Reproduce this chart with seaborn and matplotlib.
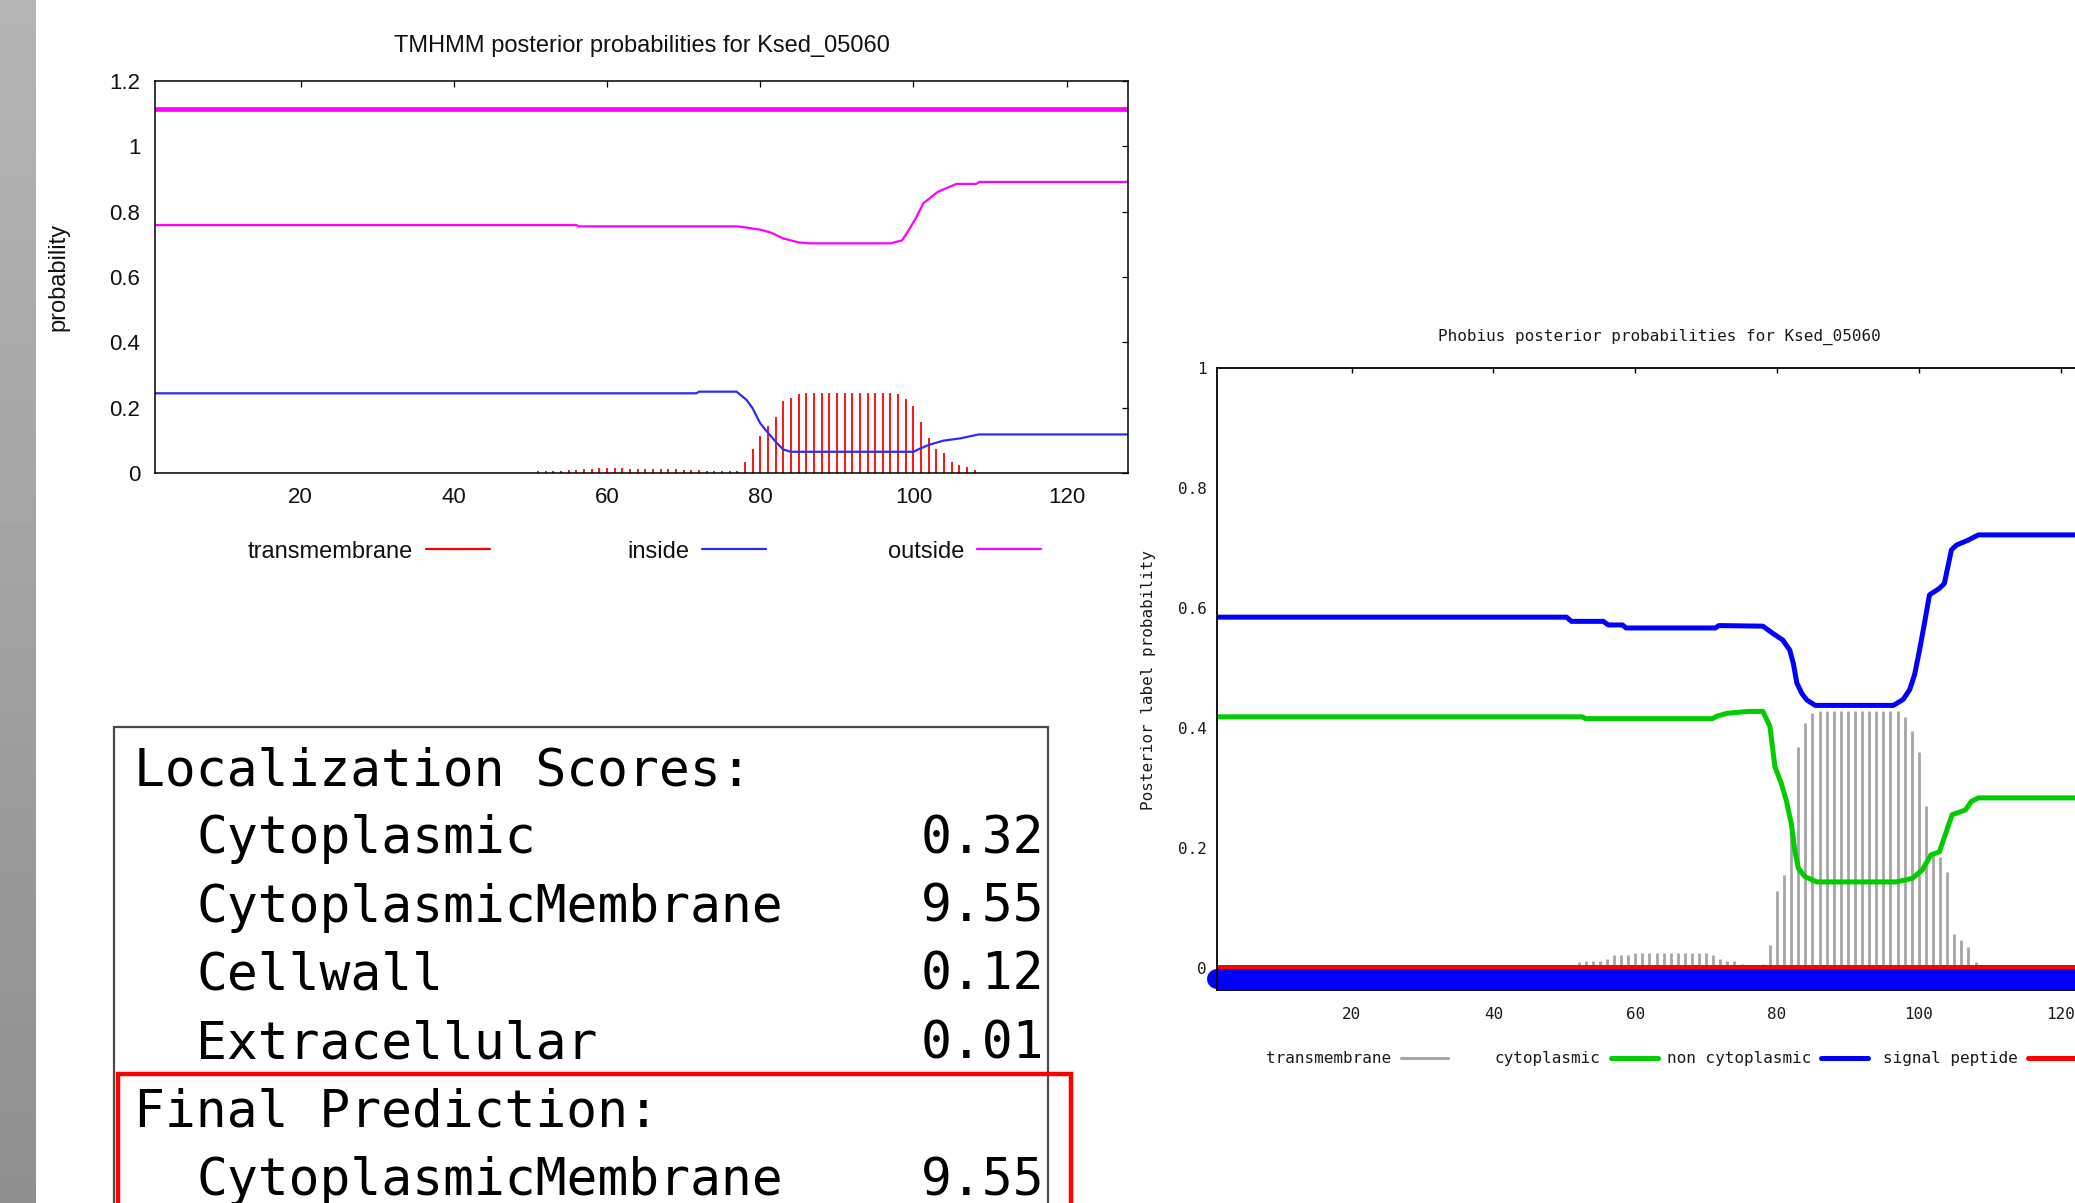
import numpy as np
import pandas as pd
import matplotlib
matplotlib.use("Agg")
import matplotlib.pyplot as plt
import seaborn as sns
from matplotlib.lines import Line2D
from matplotlib.patches import Rectangle
from matplotlib.ticker import FuncFormatter

# ---------------- TMHMM data ----------------
tmhmm_title = "TMHMM posterior probabilities for Ksed_05060"
tmhmm_tm_res = [51, 52, 53, 54, 55, 56, 57, 58, 59, 60, 61, 62, 63, 64, 65, 66, 67, 68, 69, 70,
                71, 72, 73, 74, 75, 76, 77, 78, 79, 80, 81, 82, 83, 84, 85, 86, 87, 88, 89, 90,
                91, 92, 93, 94, 95, 96, 97, 98, 99, 100, 101, 102, 103, 104, 105, 106, 107, 108]
tmhmm_tm_prob = [0.006, 0.006, 0.007, 0.007, 0.008, 0.009, 0.012, 0.013, 0.014, 0.015,
                 0.014, 0.014, 0.013, 0.013, 0.013, 0.013, 0.013, 0.012, 0.011, 0.010,
                 0.009, 0.008, 0.007, 0.007, 0.006, 0.006, 0.007, 0.033, 0.072, 0.114,
                 0.144, 0.172, 0.221, 0.230, 0.241, 0.246, 0.246, 0.246, 0.246, 0.246,
                 0.246, 0.246, 0.246, 0.246, 0.246, 0.246, 0.246, 0.241, 0.226, 0.205,
                 0.157, 0.106, 0.075, 0.062, 0.033, 0.025, 0.018, 0.008]
tmhmm_in_x = [1, 71.7, 72.0, 76.9, 78.2, 79.0, 80.0, 80.9, 82.0, 83.0, 84.0, 100.0, 100.7,
              102.0, 103.9, 106.1, 107.5, 108.5, 128]
tmhmm_in_y = [0.244, 0.244, 0.249, 0.249, 0.224, 0.198, 0.152, 0.126, 0.096, 0.072, 0.065,
              0.065, 0.073, 0.086, 0.099, 0.106, 0.113, 0.118, 0.118]
tmhmm_out_x = [1, 56.0, 56.3, 77.0, 78.0, 80.0, 81.5, 83.0, 85.0, 86.5, 97.0, 98.5, 99.4,
               100.3, 101.3, 103.2, 105.6, 108.2, 108.6, 128]
tmhmm_out_y = [0.759, 0.759, 0.755, 0.755, 0.752, 0.745, 0.735, 0.718, 0.706, 0.703, 0.703,
               0.712, 0.744, 0.780, 0.826, 0.861, 0.885, 0.885, 0.891, 0.891]
tmhmm_top_x = [1, 128]
tmhmm_top_y = [1.114, 1.114]
tmhmm_labels = ["transmembrane", "inside", "outside"]
tmhmm_xticks = [20, 40, 60, 80, 100, 120]
tmhmm_yticks = [0, 0.2, 0.4, 0.6, 0.8, 1.0, 1.2]

# ---------------- Phobius data ----------------
phob_title = "Phobius posterior probabilities for Ksed_05060"
phob_tm_res = tmhmm_tm_res
phob_tm_prob = [0.006, 0.011, 0.013, 0.013, 0.013, 0.016, 0.022, 0.022, 0.022, 0.025,
                0.025, 0.025, 0.025, 0.025, 0.025, 0.025, 0.025, 0.025, 0.025, 0.025,
                0.022, 0.016, 0.013, 0.013, 0.008, 0.003, 0.002, 0.008, 0.039, 0.129,
                0.156, 0.225, 0.369, 0.409, 0.425, 0.429, 0.429, 0.429, 0.429, 0.429,
                0.429, 0.429, 0.429, 0.429, 0.429, 0.429, 0.429, 0.419, 0.396, 0.361,
                0.270, 0.192, 0.186, 0.161, 0.057, 0.047, 0.035, 0.011]
phob_cyt_x = [1, 52.5, 53.0, 70.9, 71.5, 73.0, 76.0, 78.0, 79.0, 79.7, 80.6, 81.3, 82.0,
              82.5, 83.0, 83.9, 85.6, 96.8, 99.1, 100.5, 101.7, 102.9, 103.8, 104.7, 106.6,
              107.4, 108.4, 128]
phob_cyt_y = [0.419, 0.419, 0.416, 0.416, 0.420, 0.425, 0.428, 0.428, 0.403, 0.336, 0.308,
              0.280, 0.242, 0.197, 0.167, 0.153, 0.144, 0.144, 0.150, 0.164, 0.189, 0.194,
              0.225, 0.256, 0.264, 0.278, 0.284, 0.284]
phob_noncyt_x = [1, 50.3, 51.0, 55.5, 56.2, 58.2, 58.7, 71.3, 71.8, 78.0, 79.4, 80.8, 81.8,
                 82.3, 82.8, 83.5, 84.2, 85.4, 96.4, 97.8, 98.7, 99.4, 100.1, 100.8, 101.5,
                 102.9, 103.6, 104.1, 104.6, 105.3, 106.9, 108.4, 128]
phob_noncyt_y = [0.585, 0.585, 0.578, 0.578, 0.572, 0.572, 0.567, 0.567, 0.571, 0.570,
                 0.558, 0.547, 0.530, 0.508, 0.475, 0.458, 0.447, 0.438, 0.438, 0.448,
                 0.464, 0.489, 0.530, 0.575, 0.622, 0.633, 0.641, 0.669, 0.697, 0.705,
                 0.713, 0.722, 0.722]
phob_sp_x = [1, 128]
phob_sp_y = [0.003, 0.003]
phob_band_x = [1, 128]
phob_band_y = [-0.018, -0.018]
phob_labels = ["transmembrane", "cytoplasmic", "non cytoplasmic", "signal peptide"]
phob_xticks = [20, 40, 60, 80, 100, 120]
phob_yticks = [0, 0.2, 0.4, 0.6, 0.8, 1.0]

# ---------------- PSORTb localization scores ----------------
loc_header = "Localization Scores:"
loc_names = ["Cytoplasmic", "CytoplasmicMembrane", "Cellwall", "Extracellular"]
loc_scores = [0.32, 9.55, 0.12, 0.01]
final_header = "Final Prediction:"
final_name = "CytoplasmicMembrane"
final_score = 9.55

# ---------------- figure ----------------
sns.set_theme(style="white")
plt.rcParams["font.family"] = ["Liberation Sans", "DejaVu Sans"]
W, H = 2075, 1203
fig = plt.figure(figsize=(W / 100, H / 100), dpi=100, facecolor="white")


def fx(px):
    return px / W


def fy(py):
    return 1 - py / H


gfmt = FuncFormatter(lambda v, p: "%g" % round(v, 3))

# left gray strip
ax_s = fig.add_axes([0, 0, fx(36), 1])
ax_s.imshow(np.linspace(0.71, 0.56, 256)[:, None], cmap="gray", vmin=0, vmax=1,
            aspect="auto", interpolation="bilinear")
ax_s.set_axis_off()

# ---------------- TMHMM panel ----------------
SANS = ["Liberation Sans", "DejaVu Sans"]
ax1 = fig.add_axes([fx(155), fy(473), (1128 - 155) / W, (473 - 81) / H])
ax1.vlines(tmhmm_tm_res, 0, tmhmm_tm_prob, color="#ff0000", lw=1.3)
sns.lineplot(x=tmhmm_in_x, y=tmhmm_in_y, ax=ax1, color="#2b2bff", lw=1.6,
             estimator=None, sort=False)
sns.lineplot(x=tmhmm_out_x, y=tmhmm_out_y, ax=ax1, color="#ff00ff", lw=1.6,
             estimator=None, sort=False)
sns.lineplot(x=tmhmm_top_x, y=tmhmm_top_y, ax=ax1, color="#ff00ff", lw=3.4,
             estimator=None, sort=False)
ax1.set_xlim(1, 128)
ax1.set_ylim(0, 1.2)
ax1.set_xticks(tmhmm_xticks)
ax1.set_yticks(tmhmm_yticks)
ax1.yaxis.set_major_formatter(gfmt)
ax1.tick_params(direction="in", length=4.3, width=0.9, color="black", top=True,
                right=True, labelsize=16, labelcolor="#111111")
ax1.tick_params(axis="y", pad=10.5)
ax1.tick_params(axis="x", pad=10.0)
for lab in ax1.get_xticklabels() + ax1.get_yticklabels():
    lab.set_family(SANS)
for sp in ax1.spines.values():
    sp.set_visible(True)
    sp.set_color("black")
    sp.set_linewidth(1.1)
ax1.set_xlabel("")
ax1.set_ylabel("probability", fontsize=17, family=SANS, color="#111111", va="center")
ax1.yaxis.set_label_coords((58 - 155) / 973, 0.5)
ax1.set_title(tmhmm_title, fontsize=17, family=SANS, color="#111111",
              x=0.5, y=(473 - 46) / 392, va="center", pad=0)

tm_handles = [Line2D([], [], color="#ff0000", lw=1.6),
              Line2D([], [], color="#2b2bff", lw=1.6),
              Line2D([], [], color="#ff00ff", lw=1.6)]
for h, lab, xe in zip(tm_handles, tmhmm_labels, [490, 766, 1041]):
    fig.legend(handles=[h], labels=[lab], loc="center right",
               bbox_to_anchor=(fx(xe), fy(551.5)), frameon=False, markerfirst=False,
               borderpad=0, borderaxespad=0, handlelength=2.71, handletextpad=0.55,
               prop={"family": SANS, "size": 17}, labelcolor="#111111")

# ---------------- Phobius panel ----------------
MONO = ["DejaVu Sans Mono"]
px_per_unit = 7.089
ax2_w = (128 - 1) * px_per_unit
ax2 = fig.add_axes([fx(1217), fy(990), ax2_w / W, (990 - 368) / H])
ax2.vlines(phob_tm_res, 0, phob_tm_prob, color="#a6a6a6", lw=2.0)
sns.lineplot(x=phob_cyt_x, y=phob_cyt_y, ax=ax2, color="#00cc00", lw=3.6,
             estimator=None, sort=False)
sns.lineplot(x=phob_noncyt_x, y=phob_noncyt_y, ax=ax2, color="#0000ff", lw=3.6,
             estimator=None, sort=False)
sns.lineplot(x=phob_sp_x, y=phob_sp_y, ax=ax2, color="#ff0000", lw=3.6,
             estimator=None, sort=False)
band = sns.lineplot(x=phob_band_x, y=phob_band_y, ax=ax2, color="#0000ff", lw=14.4,
                    estimator=None, sort=False).get_lines()[-1]
band.set_solid_capstyle("round")
band.set_clip_on(False)
ax2.set_xlim(1, 128)
ax2.set_ylim(-0.036, 1.0)
ax2.set_xticks(phob_xticks)
ax2.set_yticks(phob_yticks)
ax2.yaxis.set_major_formatter(gfmt)
ax2.tick_params(direction="in", length=3.8, width=1.0, color="black", top=True,
                right=True, labelsize=11.5, labelcolor="#1a1a1a")
ax2.tick_params(axis="y", pad=7.5)
ax2.tick_params(axis="x", pad=12)
for lab in ax2.get_xticklabels() + ax2.get_yticklabels():
    lab.set_family(MONO)
for sp in ax2.spines.values():
    sp.set_visible(True)
    sp.set_color("black")
    sp.set_linewidth(1.3)
ax2.set_xlabel("")
ax2.set_ylabel("Posterior label probability", fontsize=11.5, family=MONO,
               color="#1a1a1a", va="center")
ax2.yaxis.set_label_coords((1148.6 - 1217) / ax2_w, (990 - 680) / 622)
ax2.set_title(phob_title, fontsize=11.5, family=MONO, color="#1a1a1a",
              x=(1659.5 - 1217) / ax2_w, y=(990 - 336.7) / 622, va="center", pad=0)

ph_handles = [Line2D([], [], color="#a6a6a6", lw=2.2),
              Line2D([], [], color="#00cc00", lw=3.6),
              Line2D([], [], color="#0000ff", lw=3.6),
              Line2D([], [], color="#ff0000", lw=3.6)]
for h, lab, xe in zip(ph_handles, phob_labels, [1448.3, 1657.8, 1868, 2074.6]):
    fig.legend(handles=[h], labels=[lab], loc="center right",
               bbox_to_anchor=(fx(xe), fy(1058.7)), frameon=False, markerfirst=False,
               borderpad=0, borderaxespad=0, handlelength=2.94, handletextpad=0.63,
               prop={"family": MONO, "size": 11.5}, labelcolor="#1a1a1a")

# ---------------- Localization score box ----------------
fig.patches.append(Rectangle((fx(113.5), fy(1215)), (1048 - 113.5) / W, (1215 - 727) / H,
                             transform=fig.transFigure, fill=False, edgecolor="#4a4a4a",
                             lw=1.6))
fig.patches.append(Rectangle((fx(118), fy(1215)), (1071 - 118) / W, (1215 - 1074) / H,
                             transform=fig.transFigure, fill=False, edgecolor="#ff0000",
                             lw=3.2))
tkw = dict(family=MONO, fontsize=37, color="black", va="baseline")
base = [785, 853.3, 921.7, 990, 1058.3, 1126.7, 1195]
fig.text(fx(134), fy(base[0]), loc_header, ha="left", **tkw)
for i, (name, sc) in enumerate(zip(loc_names, loc_scores)):
    fig.text(fx(134 + 62), fy(base[i + 1]), name, ha="left", **tkw)
    fig.text(fx(1044), fy(base[i + 1]), "%.2f" % sc, ha="right", **tkw)
fig.text(fx(134), fy(base[5]), final_header, ha="left", **tkw)
fig.text(fx(134 + 62), fy(base[6]), final_name, ha="left", **tkw)
fig.text(fx(1044), fy(base[6]), "%.2f" % final_score, ha="right", **tkw)

fig.savefig("out.png", dpi=100, facecolor="white")
